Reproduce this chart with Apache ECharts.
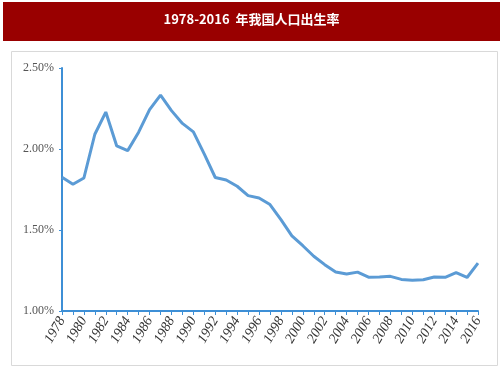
<!DOCTYPE html>
<html>
<head>
<meta charset="utf-8">
<script src="https://cdn.jsdelivr.net/npm/echarts@6/dist/echarts.min.js"></script>
<style>
  html, body { margin: 0; padding: 0; background: #fff; }
  #main { width: 503px; height: 378px; }
</style>
</head>
<body>
<div id="main"></div>
<script>
// 年份
var years = [];
for (var y = 1978; y <= 2016; y++) years.push(String(y));
// 出生率 (%)
var birthRate = [1.825, 1.782, 1.821, 2.091, 2.228, 2.019, 1.990, 2.104, 2.243, 2.333,
                 2.237, 2.158, 2.106, 1.968, 1.824, 1.809, 1.770, 1.712, 1.698, 1.657,
                 1.564, 1.464, 1.403, 1.338, 1.286, 1.241, 1.229, 1.240, 1.209, 1.210,
                 1.214, 1.195, 1.190, 1.193, 1.210, 1.208, 1.237, 1.207, 1.295];
var yTicks = ['1.00%', '1.50%', '2.00%', '2.50%'];

var myChart = echarts.init(document.getElementById('main'));

var option = {
    animation: false,
    graphic: [
        {
            type: 'rect',
            shape: { x: 3, y: 2, width: 497, height: 39 },
            style: { fill: '#990000' }
        },
        {
            type: 'text',
            left: 'center',
            top: 13,
            style: {
                text: '1978-2016  年我国人口出生率',
                fill: '#fff',
                font: 'bold 13px "Noto Sans CJK SC", sans-serif'
            }
        },
        {
            type: 'rect',
            shape: { x: 11.5, y: 51.5, width: 486, height: 314 },
            style: { fill: 'none', stroke: '#d9d9d9', lineWidth: 1 }
        }
    ],
    grid: {
        left: 62,
        right: 25,
        top: 68,
        bottom: 67
    },
    xAxis: {
        type: 'category',
        data: years,
        boundaryGap: false,
        axisLine: { lineStyle: { color: '#3d8fd6', width: 2 } },
        axisTick: { show: true, interval: 0, length: 4, lineStyle: { color: '#3d8fd6' } },
        axisLabel: {
            interval: 1,
            rotate: 60,
            color: '#333',
            fontFamily: 'Liberation Serif',
            fontStyle: 'italic',
            fontSize: 14,
            margin: 7
        },
        splitLine: { show: false }
    },
    yAxis: {
        type: 'value',
        min: 1.0,
        max: 2.5,
        interval: 0.5,
        axisLine: { show: true, lineStyle: { color: '#3d8fd6', width: 2 } },
        axisTick: { show: true, length: 3, lineStyle: { color: '#3d8fd6' } },
        axisLabel: {
            color: '#555',
            fontFamily: 'Liberation Serif',
            fontSize: 12,
            margin: 8,
            formatter: function (v) { return yTicks[Math.round((v - 1) / 0.5)]; }
        },
        splitLine: { show: false }
    },
    series: [
        {
            type: 'line',
            data: birthRate,
            symbol: 'none',
            smooth: false,
            lineStyle: { color: '#5b9bd5', width: 3 }
        }
    ]
};

myChart.setOption(option);
window.addEventListener('resize', function () {
    myChart.resize();
});
</script>
</body>
</html>
